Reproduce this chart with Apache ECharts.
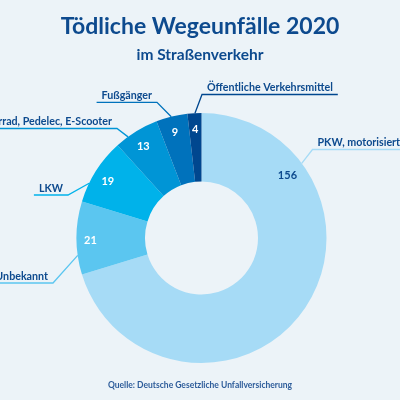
<!DOCTYPE html>
<html>
<head>
<meta charset="utf-8">
<script src="https://cdn.jsdelivr.net/npm/echarts@6/dist/echarts.min.js"></script>
<style>
    html, body {margin: 0; padding: 0; background: #ecf3f8;}
    #main {width: 400px; height: 400px;}
</style>
</head>
<body>
<div id="main"></div>
<script>
'use strict';

// Daten
const categories = ['PKW, motorisierte Zweiräder', 'Unbekannt', 'LKW', 'Fahrrad, Pedelec, E-Scooter', 'Fußgänger', 'Öffentliche Verkehrsmittel'];
const values = [156, 21, 19, 13, 9, 4];
const chartTitle = 'Tödliche Wegeunfälle 2020';
const chartSubtitle = 'im Straßenverkehr';
const sourceNote = 'Quelle: Deutsche Gesetzliche Unfallversicherung';

const palette = ['#a6dbf6', '#5bc6f0', '#00b2ea', '#0095d6', '#0072bc', '#00478f'];
const darkBlue = '#0d4a8e';
const font = 'Lato';

// Geometrie des Rings
const cx = 201.5, cy = 238, innerR = 56.5, outerR = 125;

function polar(angle, r) {
    const a = angle * Math.PI / 180;
    return [cx + r * Math.cos(a), cy - r * Math.sin(a)];
}

// Mittelwinkel der Segmente (Start oben, im Uhrzeigersinn)
const total = values.reduce((s, v) => s + v, 0);
let acc = 0;
const midAngles = values.map(v => {
    const mid = 90 - (acc + v / 2) / total * 360;
    acc += v;
    return mid;
});

// Beschriftungen: Winkel am Ring, Knickpunkt der Linie, Seite
const nameSpots = [
    {angle: 36.7, elbow: [312.5, 149.5], side: 'right'},
    {angle: 188, elbow: [53, 283], side: 'left'},
    {angle: 154, elbow: [68, 195], side: 'left'},
    {angle: 126, elbow: [117, 128.5], side: 'left'},
    {angle: 104, elbow: [157, 102.3], side: 'left'},
    {angle: 93, elbow: [202, 94.5], side: 'right'}
];

const pieData = categories.map((name, i) => ({name: name, value: values[i]}));
// helles Segment bekommt dunkle Zahl
const valueData = categories.map((name, i) => ({
    name: name,
    value: values[i],
    label: {color: i === 0 ? darkBlue : '#ffffff'}
}));

const myChart = echarts.init(document.getElementById('main'));
myChart.setOption({
    backgroundColor: '#ecf3f8',
    animation: false,
    color: palette,
    title: [{
        text: chartTitle,
        subtext: chartSubtitle,
        left: 'center',
        top: 13,
        padding: 0,
        itemGap: 5,
        textStyle: {fontFamily: font, fontSize: 23, fontWeight: 'bold', color: darkBlue, lineHeight: 28},
        subtextStyle: {fontFamily: font, fontSize: 15.5, fontWeight: 'bold', color: darkBlue, lineHeight: 18}
    }, {
        text: sourceNote,
        left: 'center',
        top: 379,
        padding: 0,
        textStyle: {fontFamily: font, fontSize: 8.5, fontWeight: 'bold', color: '#2d5c9a', lineHeight: 12}
    }],
    series: [{
        // Ring mit Namen aussen
        type: 'pie',
        center: [cx, cy],
        radius: [innerR, outerR],
        startAngle: 90,
        avoidLabelOverlap: false,
        silent: true,
        data: pieData,
        label: {
            show: true,
            position: 'outside',
            formatter: '{b}',
            fontFamily: font,
            fontSize: 10.7,
            fontWeight: 'bold',
            color: darkBlue
        },
        labelLine: {
            show: true,
            length: 10,
            length2: 10,
            lineStyle: {width: 1.3}
        },
        labelLayout: function (params) {
            const spot = nameSpots[params.dataIndex];
            const w = params.labelRect.width;
            const uy = spot.elbow[1];
            const right = spot.side === 'right';
            const x = right ? spot.elbow[0] + 5 : spot.elbow[0] - 5;
            const end = right ? x + w + 5 : x - w - 5;
            return {
                x: x,
                y: uy - 1,
                align: right ? 'left' : 'right',
                verticalAlign: 'bottom',
                labelLinePoints: [polar(spot.angle, outerR), spot.elbow, [end, uy]]
            };
        }
    }, {
        // unsichtbarer Ring fuer die Werte
        type: 'pie',
        center: [cx, cy],
        radius: [96, outerR],
        startAngle: 90,
        avoidLabelOverlap: false,
        silent: true,
        z: 3,
        data: valueData,
        itemStyle: {color: 'rgba(0,0,0,0)'},
        label: {
            show: true,
            position: 'inside',
            formatter: '{c}',
            fontFamily: font,
            fontSize: 11,
            fontWeight: 'bold'
        },
        labelLine: {show: false},
        labelLayout: function (params) {
            const i = params.dataIndex;
            // PKW-Zahl sitzt oben rechts im Segment
            const p = i === 0 ? polar(36.2, 106.5) : polar(midAngles[i], 111);
            return {x: p[0], y: p[1] + (i === 0 ? 0 : 2.5), align: 'center', verticalAlign: 'middle'};
        }
    }]
});
</script>
</body>
</html>
